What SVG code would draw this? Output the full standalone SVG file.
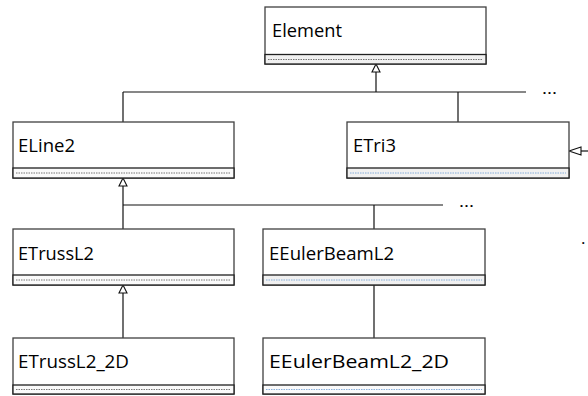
<svg xmlns="http://www.w3.org/2000/svg" width="588" height="396" viewBox="0 0 588 396">
<style>
.box{fill:#fff;stroke:#404040;stroke-width:1.3}
.comp{fill:#fafafa;stroke:#202020;stroke-width:1.3}
.compg{fill:#f0f0f0;stroke:#202020;stroke-width:1.3}
.dk{stroke:#555;stroke-width:0.8;stroke-dasharray:1.5 1}
.bl{stroke:#7aa6d6;stroke-width:0.9;stroke-dasharray:1.5 1}
.lbl{font-family:"Open Sans","Liberation Sans",sans-serif;font-size:18px;fill:#000}
.dots{font-family:"Open Sans","Liberation Sans",sans-serif;font-size:17px;fill:#000}
.c{stroke:#111;stroke-width:1.2;fill:none}
.tri{fill:#fff;stroke:#111;stroke-width:1.1}
</style>
<g id="connectors">
<line class="c" x1="123" y1="92" x2="526" y2="92"/>
<line class="c" x1="376" y1="92" x2="376" y2="72"/>
<polygon class="tri" points="376,64 372,72 380,72"/>
<line class="c" x1="123" y1="92" x2="123" y2="122"/>
<line class="c" x1="458" y1="92" x2="458" y2="122"/>
<line class="c" x1="581" y1="151" x2="588" y2="151"/>
<polygon class="tri" points="569,151 581,147 581,155"/>
<line class="c" x1="123" y1="205" x2="443" y2="205"/>
<line class="c" x1="123" y1="186" x2="123" y2="229"/>
<polygon class="tri" points="123,178 119,186 127,186"/>
<line class="c" x1="374" y1="205" x2="374" y2="229"/>
<line class="c" x1="123" y1="293" x2="123" y2="338"/>
<polygon class="tri" points="123,285 119,293 127,293"/>
<line class="c" x1="374" y1="285" x2="374" y2="338"/>
<text class="dots" x="542" y="94" textLength="15" lengthAdjust="spacingAndGlyphs">...</text>
<text class="dots" x="459" y="207" textLength="15" lengthAdjust="spacingAndGlyphs">...</text>
<text class="dots" x="581" y="244">.</text>
</g>
<g id="Element">
<rect class="box" x="265" y="7" width="221" height="57"/>
<rect class="compg" x="265" y="54.5" width="221" height="9.5"/>
<line class="dk" x1="268" y1="59.5" x2="483" y2="59.5"/>
<text class="lbl" x="272" y="37" textLength="70" lengthAdjust="spacingAndGlyphs">Element</text>
</g>
<g id="ELine2">
<rect class="box" x="13" y="122" width="221" height="56"/>
<rect class="comp" x="13" y="168" width="221" height="10"/>
<line class="dk" x1="16" y1="173" x2="231" y2="173"/>
<text class="lbl" x="18" y="152" textLength="57" lengthAdjust="spacingAndGlyphs">ELine2</text>
</g>
<g id="ETri3">
<rect class="box" x="347" y="122" width="222" height="56"/>
<rect class="compg" x="347" y="168" width="222" height="10"/>
<line class="bl" x1="350" y1="173" x2="566" y2="173"/>
<text class="lbl" x="353" y="152" textLength="43" lengthAdjust="spacingAndGlyphs">ETri3</text>
</g>
<g id="ETrussL2">
<rect class="box" x="13" y="229" width="221" height="56"/>
<rect class="comp" x="13" y="275" width="221" height="10"/>
<line class="dk" x1="16" y1="280" x2="231" y2="280"/>
<text class="lbl" x="18" y="260" textLength="76" lengthAdjust="spacingAndGlyphs">ETrussL2</text>
</g>
<g id="EEulerBeamL2">
<rect class="box" x="263" y="229" width="222" height="56"/>
<rect class="compg" x="263" y="275" width="222" height="10"/>
<line class="bl" x1="266" y1="280" x2="482" y2="280"/>
<text class="lbl" x="269" y="260" textLength="125" lengthAdjust="spacingAndGlyphs">EEulerBeamL2</text>
</g>
<g id="ETrussL2_2D">
<rect class="box" x="13" y="338" width="221" height="56"/>
<rect class="comp" x="13" y="385" width="221" height="9"/>
<line class="dk" x1="16" y1="389.5" x2="231" y2="389.5"/>
<text class="lbl" x="18" y="368" textLength="111" lengthAdjust="spacingAndGlyphs">ETrussL2_2D</text>
</g>
<g id="EEulerBeamL2_2D">
<rect class="box" x="263" y="338" width="222" height="56"/>
<rect class="comp" x="263" y="385" width="222" height="9"/>
<line class="bl" x1="266" y1="389.5" x2="482" y2="389.5"/>
<text class="lbl" x="269" y="368" textLength="180" lengthAdjust="spacingAndGlyphs">EEulerBeamL2_2D</text>
</g>
</svg>
